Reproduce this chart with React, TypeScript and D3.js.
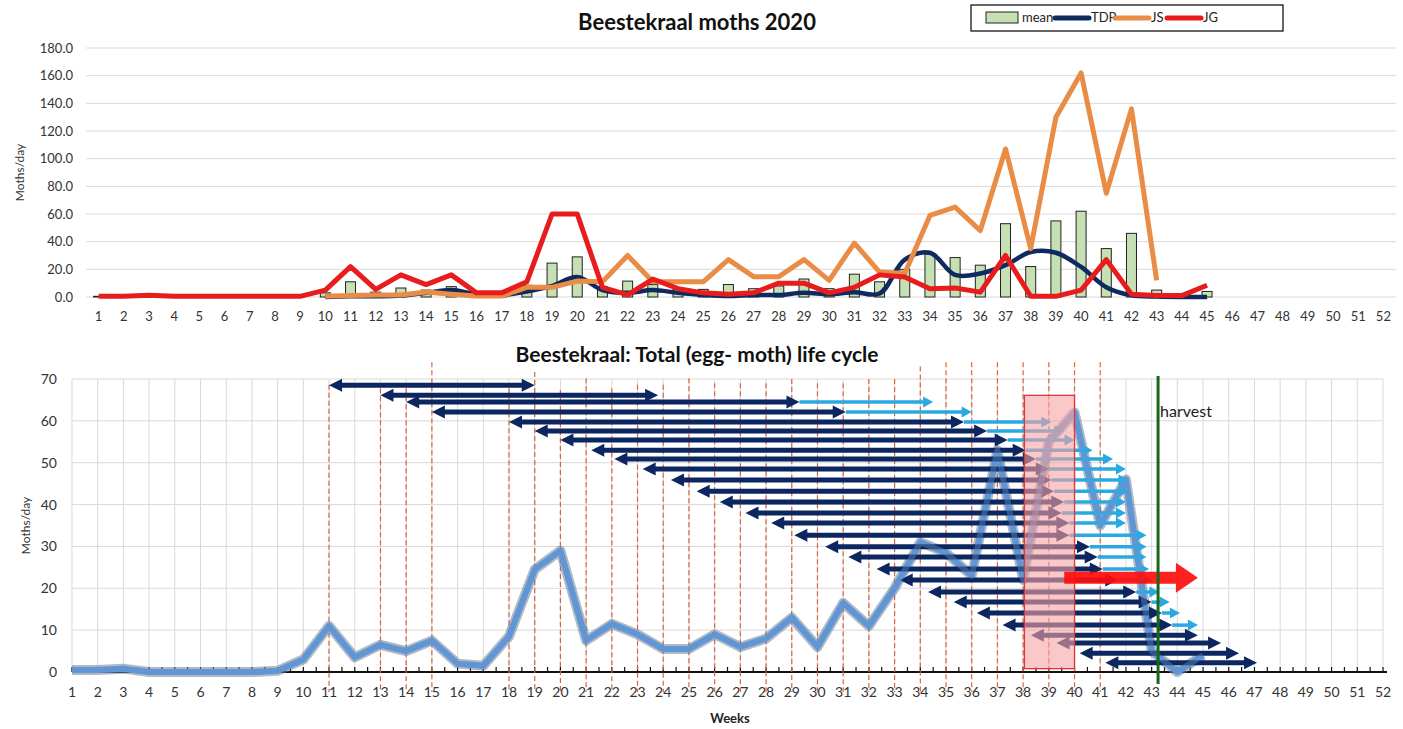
import React from "react";
import * as d3 from "d3";

// weeks 1..52 on both charts
const weeks = d3.range(1, 53);

// weekly values, index 0 = week 1 (null = no reading)
const meanVals = [0.5, 0.5, 0.8, 0, 0, 0, 0, 0, 0.3, 3, 11, 3.5, 6.5, 5, 7.5, 2, 1.5, 8.5, 24.5, 29,
  7.5, 11.5, 9, 5.5, 5.5, 9, 6, 8, 13, 6, 16.5, 11, 20, 31, 28.5, 23, 53, 22, 55, 62, 35, 46, 5, 0, 4];
const tdpVals = [null, null, null, null, null, null, null, null, null, 0, 0.5, 0.5, 1, 3, 5, 2, 1.5, 4, 8, 14.5,
  5, 3, 5, 3, 1.5, 0.7, 1.5, 1.5, 3, 2, 3.5, 2.5, 27, 32, 16, 17, 23, 32.5, 32, 21.7, 7, 1.2, 0.3, 0, 0];
const jsVals = [null, null, null, null, null, null, null, null, null, 0.5, 1, 1.5, 1.5, 3.6, 2, 0.7, 0.7, 7, 7, 11.5,
  11, 30, 11, 11, 11, 27, 14.7, 14.7, 27, 12, 39, 18, 17, 59, 65, 48, 107, 35, 130, 162, 75, 136, 12];
const jgVals = [0.5, 0.5, 1.2, 0.5, 0.5, 0.5, 0.5, 0.5, 0.5, 5, 22, 5.5, 16, 9, 16, 3, 3, 11, 60, 60,
  7, 1.5, 13, 6, 3, 2, 3, 10, 10, 3, 7, 16, 14.5, 6, 6.5, 3.5, 30, 0.5, 0.5, 5, 27, 2, 1, 1, 8.5];

const topTicks = d3.range(0, 181, 20);
const botTicks = d3.range(0, 71, 10);

// life cycle arrows: level (moths/day), start week, dark end week, light-blue end week
const arrowLevel = [68.5, 66.1, 64.5, 62.1, 59.7, 57.6, 55.4, 53.0, 50.9, 48.5, 45.9, 43.2, 40.6, 38.0,
  35.6, 32.7, 29.9, 27.5, 24.6, 22.0, 19.1, 16.7, 14.1, 11.2, 8.8, 6.9, 4.5, 2.2];
const arrowStart = [11, 13, 14, 15, 18, 19, 20, 21.2, 22.1, 23.2, 24.3, 25.3, 26.2, 27.2,
  28.2, 29.1, 30.3, 31.2, 32.3, 33.2, 34.3, 35.3, 36.2, 37.2, 38.3, 39.3, 40.2, 41.2];
const arrowEnd = [19, 23.8, 29.3, 31.1, 35.7, 36.6, 37.4, 38.1, 38.5, 39, 39.1, 39.2, 39.6, 39.5,
  39.8, 39.8, 40.6, 40.9, 41.1, 41.7, 42.4, 43, 43.4, 43.8, 44.8, 45.7, 46.4, 47.1];
const arrowExtend = [null, null, 34.5, 36, 39.1, 39.6, 40, 40.7, 41.5, 42, 42.1, 42.1, 42, 42,
  42, 42.8, 42.8, 42.8, 42.9, 43, 43.3, 43.7, 44.1, 44.8, null, null, null, null];

// dashed week markers and how high they reach
const markerWeeks = [11, 13, 14, 15, 18, 19, 20, 21, 22, 23, 24, 25, 26, 27, 28, 29, 30, 31, 32, 33, 34, 35, 36, 37, 38, 39, 40, 41];
const markerTop = [68.6, 67.8, 67.8, 74, 67.8, 71.7, 67.4, 70.2, 67.8, 68.6, 68.6, 70.2, 69, 69, 69, 70, 69, 69, 70, 70, 73, 74, 74, 74, 74, 74, 74, 74];

const harvestWeek = 43.25;
const boxWeeks = [38.05, 40];
const boxLevels = [0.8, 66.1];
const redArrow = { from: 39.6, to: 44.8, level: 22.5 };

const legendItems = [
  { label: "mean", kind: "bar", color: "#c5e0b3" },
  { label: "TDP", kind: "line", color: "#0e2a5e" },
  { label: "JS", kind: "line", color: "#e98c45" },
  { label: "JG", kind: "line", color: "#e81c1c" },
];
const legendX = [986, 1055, 1115, 1167];

const FONT = "Lato, 'Open Sans', sans-serif";

const arrowPath = (x1: number, x2: number, y: number, hl: number, hw: number, left: boolean) => {
  const r = `M${x2},${y} L${x2 - hl},${y - hw} L${x2 - hl},${y + hw} Z`;
  const l = `M${x1},${y} L${x1 + hl},${y - hw} L${x1 + hl},${y + hw} Z`;
  return left ? r + " " + l : r;
};

export default function App() {
  const xTop = d3.scaleBand<number>().domain(weeks).range([86, 1396]);
  const bw = xTop.bandwidth();
  const cx = (w: number) => (xTop(w) as number) + bw / 2;
  const yTop = d3.scaleLinear().domain([0, 180]).range([297, 48]);

  const xBot = d3.scaleLinear().domain([1, 52]).range([72, 1383]);
  const yBot = d3.scaleLinear().domain([0, 70]).range([672, 379]);

  const topLine = (vals: (number | null)[], curve: d3.CurveFactory) =>
    d3.line<number | null>()
      .defined((d) => d != null)
      .x((_, i) => cx(i + 1))
      .y((d) => yTop(d as number))
      .curve(curve)(vals) || "";

  const botLine = d3.line<number>()
    .x((_, i) => xBot(i + 1))
    .y((d) => yBot(d))(meanVals) || "";

  const halfTicks = d3.range(1, 52.01, 0.5);

  const ra = redArrow;
  const rx1 = xBot(ra.from), rx2 = xBot(ra.to), ry = yBot(ra.level);
  const redPath = `M${rx1},${ry - 6} L${rx2 - 22},${ry - 6} L${rx2 - 22},${ry - 15} L${rx2},${ry} L${rx2 - 22},${ry + 15} L${rx2 - 22},${ry + 6} L${rx1},${ry + 6} Z`;

  return (
    <svg width={1403} height={729} style={{ position: "absolute", left: 0, top: 0, background: "#fff" }} fontFamily={FONT}>
      {/* ---------- top chart ---------- */}
      <text x={697} y={30} textAnchor="middle" fontSize={22} fontWeight={700} fill="#111">Beestekraal moths 2020</text>
      <g>
        <rect x={971} y={5} width={312} height={26} fill="#fff" stroke="#000" strokeWidth={1.2} />
        {legendItems.map((d, i) => {
          const lx = legendX[i];
          return (
            <g key={d.label}>
              {d.kind === "bar" ? (
                <rect x={lx} y={12} width={32} height={11} fill={d.color} stroke="#222" strokeWidth={1} />
              ) : (
                <line x1={lx} x2={lx + 34} y1={18} y2={18} stroke={d.color} strokeWidth={5} strokeLinecap="round" />
              )}
              <text x={lx + (d.kind === "bar" ? 36 : 36)} y={22} fontSize={13} fill="#222">{d.label}</text>
            </g>
          );
        })}
      </g>
      {topTicks.map((t) => (
        <g key={t}>
          <line x1={86} x2={1396} y1={yTop(t)} y2={yTop(t)} stroke="#d9d9d9" strokeWidth={1} />
          <text x={73} y={yTop(t) + 4.5} textAnchor="end" fontSize={13} fill="#333">{d3.format(".1f")(t)}</text>
        </g>
      ))}
      <text transform={`translate(24,${yTop(90)}) rotate(-90)`} textAnchor="middle" fontSize={12} fill="#333">Moths/day</text>
      {weeks.map((w) => (
        <text key={w} x={cx(w)} y={321} textAnchor="middle" fontSize={13} fill="#333">{w}</text>
      ))}
      {meanVals.map((v, i) => v >= 0.5 ? (
        <rect key={i} x={cx(i + 1) - 5} y={yTop(v)} width={10} height={yTop(0) - yTop(v)}
          fill="#c5e0b3" stroke="#222" strokeWidth={1} />
      ) : null)}
      <path d={topLine(tdpVals, d3.curveCatmullRom)} fill="none" stroke="#0e2a5e" strokeWidth={4.5} strokeLinejoin="round" />
      <path d={topLine(jsVals, d3.curveLinear)} fill="none" stroke="#e98c45" strokeWidth={5} strokeLinejoin="round" />
      <path d={topLine(jgVals, d3.curveLinear)} fill="none" stroke="#e81c1c" strokeWidth={5} strokeLinejoin="round" />

      {/* ---------- bottom chart ---------- */}
      <text x={697} y={362} textAnchor="middle" fontSize={21} fontWeight={700} fill="#111">Beestekraal: Total (egg- moth) life cycle</text>
      {weeks.map((w) => (
        <line key={w} x1={xBot(w)} x2={xBot(w)} y1={yBot(70)} y2={yBot(0)} stroke="#d9d9d9" strokeWidth={1} />
      ))}
      {botTicks.map((t) => (
        <g key={t}>
          <line x1={xBot(1)} x2={xBot(52)} y1={yBot(t)} y2={yBot(t)} stroke="#d9d9d9" strokeWidth={1} />
          <text x={57} y={yBot(t) + 5} textAnchor="end" fontSize={14} fill="#333">{t}</text>
        </g>
      ))}
      <text transform={`translate(30,${yBot(35)}) rotate(-90)`} textAnchor="middle" fontSize={12} fill="#333">Moths/day</text>
      <line x1={xBot(1)} x2={xBot(52) + 4} y1={yBot(0)} y2={yBot(0)} stroke="#111" strokeWidth={2} />
      {halfTicks.map((t) => (
        <line key={t} x1={xBot(t)} x2={xBot(t)} y1={yBot(0)} y2={yBot(0) - 5} stroke="#111" strokeWidth={1.2} />
      ))}
      {weeks.map((w) => (
        <text key={w} x={xBot(w)} y={697} textAnchor="middle" fontSize={14} fill="#333">{w}</text>
      ))}
      <text x={730} y={723} textAnchor="middle" fontSize={13} fontWeight={700} fill="#222">Weeks</text>

      {markerWeeks.map((w, i) => (
        <line key={w} x1={xBot(w)} x2={xBot(w)} y1={yBot(markerTop[i])} y2={692}
          stroke="#d9643c" strokeWidth={1.2} strokeDasharray="5,3" />
      ))}

      {/* mean line */}
      <path d={botLine} fill="none" stroke="#6f8197" strokeOpacity={0.55} strokeWidth={10} strokeLinejoin="round" />
      <path d={botLine} fill="none" stroke="#5b93d3" strokeWidth={6} strokeLinejoin="round" />

      {/* light-blue continuation arrows */}
      {arrowLevel.map((lv, i) => {
        const ext = arrowExtend[i];
        if (ext == null) return null;
        const y = yBot(lv), x1 = xBot(arrowEnd[i]), x2 = xBot(ext);
        return (
          <g key={"l" + i}>
            <line x1={x1} x2={x2 - 9} y1={y} y2={y} stroke="#29a9e1" strokeWidth={3.5} />
            <path d={arrowPath(x1, x2, y, 10, 5.5, false)} fill="#29a9e1" />
          </g>
        );
      })}
      {/* dark double arrows */}
      {arrowLevel.map((lv, i) => {
        const y = yBot(lv), x1 = xBot(arrowStart[i]), x2 = xBot(arrowEnd[i]);
        return (
          <g key={"d" + i}>
            <line x1={x1 + 10} x2={x2 - 10} y1={y} y2={y} stroke="#0c2660" strokeWidth={5} />
            <path d={arrowPath(x1, x2, y, 13, 6.5, true)} fill="#0c2660" />
          </g>
        );
      })}
      {/* mean line drawn faintly over arrows */}
      <path d={botLine} fill="none" stroke="#6a9bd4" strokeOpacity={0.4} strokeWidth={6} strokeLinejoin="round" />

      <rect x={xBot(boxWeeks[0])} y={yBot(boxLevels[1])} width={xBot(boxWeeks[1]) - xBot(boxWeeks[0])}
        height={yBot(boxLevels[0]) - yBot(boxLevels[1])} fill="#f6a3a3" fillOpacity={0.6} stroke="#d83a3a" strokeWidth={1.3} />

      <path d={redPath} fill="#ff0d0d" fillOpacity={0.92} />

      <line x1={xBot(harvestWeek)} x2={xBot(harvestWeek)} y1={376} y2={684} stroke="#17661a" strokeWidth={3} />
      <text x={xBot(harvestWeek) + 2} y={417} fontSize={16} fill="#222">harvest</text>
    </svg>
  );
}
